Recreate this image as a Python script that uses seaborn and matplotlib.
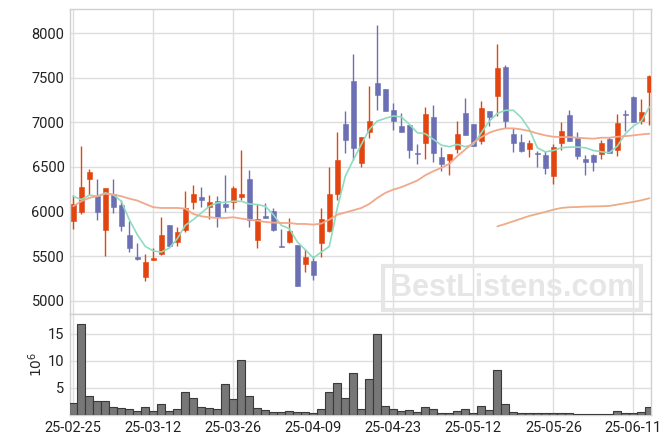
import numpy as np
import pandas as pd
import matplotlib
matplotlib.use("Agg")
import matplotlib.pyplot as plt
import seaborn as sns

# daily candles (trading-day index 0..72)
opens = [5890, 6000, 6360, 6170, 5795, 6200, 6070, 5735, 5490, 5265,
         5460, 5520, 5850, 5660, 5795, 6110, 6160, 6050, 6115, 6085,
         6110, 6165, 6360, 5680, 5950, 6010, 5610, 5660, 5630, 5410,
         5445, 5645, 5780, 6200, 6980, 7465, 6545, 6895, 7440, 7370,
         7140, 6955, 6970, 6660, 6770, 7060, 6610, 6580, 6705, 7100,
         6980, 6795, 7130, 7300, 7620, 6865, 6785, 6705, 6660, 6635,
         6400, 6770, 7080, 6825, 6595, 6635, 6650, 6815, 6695, 7095,
         7285, 7020, 7345]
closes = [6090, 6280, 6440, 6000, 6260, 6055, 5840, 5590, 5465, 5430,
          5480, 5735, 5615, 5770, 6040, 6200, 6130, 6105, 5935, 6055,
          6260, 6200, 5910, 5920, 5930, 5795, 5600, 5780, 5165, 5490,
          5285, 5915, 6195, 6575, 6805, 6715, 6835, 7015, 7310, 7125,
          7020, 6890, 6695, 6650, 7090, 6660, 6535, 6650, 6865, 6860,
          6740, 7160, 7065, 7610, 7020, 6770, 6680, 6765, 6650, 6490,
          6725, 6905, 6795, 6620, 6560, 6560, 6765, 6660, 6995, 7085,
          7000, 7115, 7520]
highs = [6190, 6740, 6480, 6370, 6270, 6370, 6130, 5900, 5645, 5525,
         5590, 5935, 5850, 5830, 6230, 6300, 6275, 6190, 6170, 6415,
         6290, 6685, 6470, 6090, 6100, 6040, 5810, 5930, 5630, 5585,
         5500, 6040, 6500, 6890, 7125, 7765, 6840, 7405, 8090, 7370,
         7215, 7100, 6970, 6760, 7170, 7190, 6725, 6650, 7015, 7270,
         6980, 7240, 7130, 7875, 7640, 6940, 6875, 6800, 6680, 6680,
         6760, 7000, 7140, 6895, 6635, 6650, 6800, 6835, 7090, 7140,
         7290, 7260, 7530]
lows = [5810, 5970, 6190, 5910, 5500, 5990, 5780, 5550, 5460, 5220,
        5455, 5510, 5605, 5615, 5770, 6025, 6055, 5915, 5830, 6000,
        6025, 6135, 5830, 5595, 5930, 5785, 5600, 5650, 5165, 5320,
        5230, 5495, 5770, 6125, 6660, 6575, 6500, 6830, 7135, 7125,
        6920, 6890, 6605, 6530, 6595, 6560, 6460, 6410, 6660, 6860,
        6740, 6755, 6960, 7070, 6940, 6665, 6670, 6615, 6500, 6425,
        6310, 6685, 6795, 6590, 6415, 6460, 6585, 6660, 6620, 6905,
        7000, 6985, 6975]

# volume in millions
volume = [2.2, 16.9, 3.6, 2.6, 2.6, 1.5, 1.35, 1.15, 0.8, 1.5,
          0.8, 2.1, 0.8, 1.15, 4.3, 3.2, 1.5, 1.35, 1.15, 5.8,
          3.0, 10.2, 3.6, 1.35, 1.0, 0.6, 0.6, 0.8, 0.6, 0.6,
          0.45, 1.15, 4.3, 5.95, 3.1, 7.8, 1.15, 6.7, 15.0, 1.65,
          1.15, 0.8, 1.0, 0.6, 1.5, 1.15, 0.35, 0.35, 0.8, 1.15,
          0.35, 1.7, 1.0, 8.3, 2.1, 0.6, 0.35, 0.35, 0.35, 0.35,
          0.35, 0.35, 0.35, 0.2, 0.2, 0.2, 0.2, 0.2, 0.8, 0.35,
          0.35, 0.6, 1.5]

# moving averages
ma_short = [6172, 6135, 6185, 6172, 6210, 6190, 6116, 5910, 5742, 5610,
            5560, 5547, 5592, 5697, 5847, 5910, 5985, 6060, 6098, 6105,
            6116, 6116, 6086, 6079, 6060, 5966, 5847, 5809, 5660, 5573,
            5480, 5547, 5610, 6041, 6397, 6580, 6753, 6921, 7015, 7045,
            7071, 7060, 6978, 6884, 6873, 6810, 6745, 6727, 6753, 6727,
            6753, 6884, 7015, 7100, 7135, 7135, 7052, 6921, 6715, 6670,
            6685, 6715, 6723, 6723, 6715, 6685, 6670, 6660, 6735, 6873,
            6959, 7015, 7172]
ma_mid = [6060, 6116, 6154, 6172, 6200, 6190, 6172, 6146, 6124, 6086,
          6049, 6041, 6041, 6041, 6034, 5974, 5948, 5937, 5929, 5929,
          5937, 5922, 5910, 5899, 5884, 5877, 5873, 5873, 5862, 5862,
          5854, 5866, 5910, 5966, 5990, 6015, 6041, 6086, 6154, 6210,
          6247, 6274, 6311, 6348, 6408, 6453, 6491, 6536, 6622, 6697,
          6772, 6835, 6884, 6915, 6933, 6933, 6921, 6903, 6876, 6854,
          6839, 6835, 6835, 6828, 6822, 6817, 6828, 6828, 6839, 6846,
          6854, 6865, 6873]
ma_long = [np.nan] * 53 + [5835, 5862, 5892, 5922, 5952, 5974, 5996, 6022, 6041, 6049,
                           6052, 6056, 6058, 6060, 6064, 6079, 6094, 6109, 6127, 6150]

tick_pos = [0, 10, 20, 30, 40, 50, 60, 70]
tick_labels = ["25-02-25", "25-03-12", "25-03-26", "25-04-09",
               "25-04-23", "25-05-12", "25-05-26", "25-06-11"]

UP = "#e2450f"
DOWN = "#6b6fb4"

sns.set_theme(style="whitegrid")
plt.rcParams["font.family"] = ["Roboto", "DejaVu Sans"]

df = pd.DataFrame({"idx": np.arange(len(opens)), "open": opens, "close": closes,
                   "high": highs, "low": lows, "vol": volume,
                   "ma_s": ma_short, "ma_m": ma_mid, "ma_l": ma_long})
cols = [UP if c >= o else DOWN for o, c in zip(df.open, df.close)]

fig = plt.figure(figsize=(6.71, 4.44), dpi=100)
ax = fig.add_axes([70 / 671, 1 - 314 / 444, 581 / 671, 305 / 444])
ax2 = fig.add_axes([70 / 671, 1 - 415 / 444, 581 / 671, 101 / 444], sharex=ax)

# candles
ax.vlines(df.idx, df.low, df.high, colors=cols, linewidth=1.0, zorder=3)
body_lo = np.minimum(df.open, df.close)
body_h = np.maximum(np.abs(df.close - df.open), 8)
ax.bar(df.idx, body_h, bottom=body_lo, width=0.62, color=cols,
       edgecolor=cols, linewidth=0.4, zorder=4)

sns.lineplot(data=df, x="idx", y="ma_s", ax=ax, color="#8fdcc0", linewidth=1.2, zorder=5)
sns.lineplot(data=df, x="idx", y="ma_m", ax=ax, color="#f1a88c", linewidth=1.3, zorder=5)
sns.lineplot(data=df, x="idx", y="ma_l", ax=ax, color="#ecad86", linewidth=1.3, zorder=5)

ax.set_ylim(4853, 8270)
ax.set_yticks([5000, 5500, 6000, 6500, 7000, 7500, 8000])
ax.set_xlabel("")
ax.set_ylabel("")
ax.tick_params(labelbottom=False)

# volume
sns.barplot(data=df, x="idx", y="vol", ax=ax2, native_scale=True, width=1,
            color="#777777", saturation=1, edgecolor="#3a3a3a", linewidth=0.8, zorder=3)
ax2.set_ylim(0, 18.7)
ax2.set_yticks([5, 10, 15])
ax2.set_xlabel("")
ax2.set_ylabel("$10^6$", fontsize=10, labelpad=2)

for a in (ax, ax2):
    a.set_xlim(-0.41, 72.2)
    a.set_xticks(tick_pos)
    a.grid(True, color="#dedede", linewidth=1)
    a.set_axisbelow(True)
    a.tick_params(length=0, labelsize=10.5, colors="#222222", pad=4)
    for s in a.spines.values():
        s.set_color("#d0d0d0")
        s.set_linewidth(1)
ax2.set_xticklabels(tick_labels)

# watermark
fig.text(512 / 671, 1 - 288 / 444, "BestListens.com", ha="center", va="center",
         fontsize=22, fontweight="bold", color="#e6e6e6", family="Liberation Sans",
         bbox=dict(boxstyle="square,pad=0.22", facecolor="none", edgecolor="#e6e6e6", linewidth=3),
         zorder=1)

fig.savefig("out.png", dpi=100)
